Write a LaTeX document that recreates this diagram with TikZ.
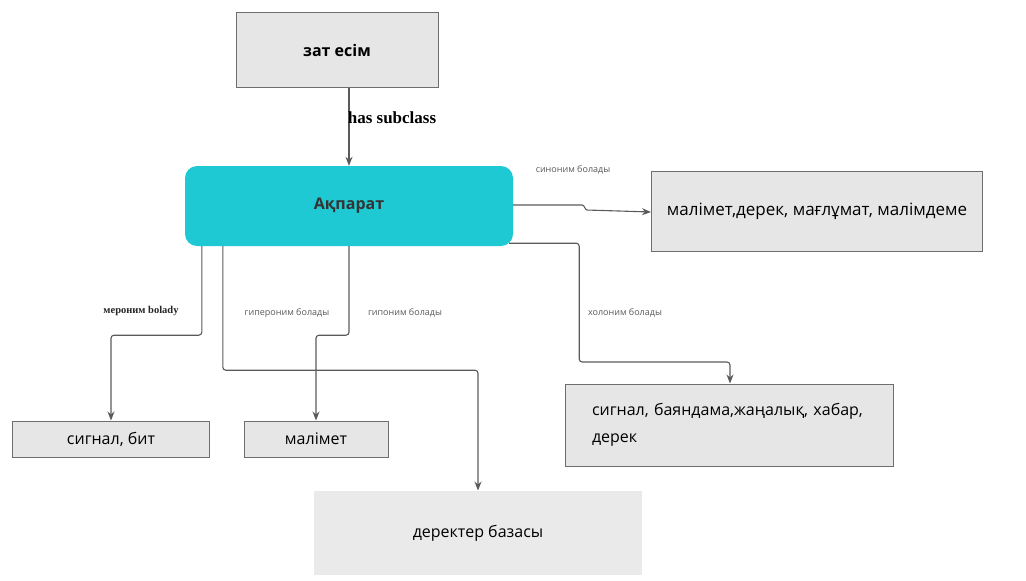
\documentclass[tikz,border=0pt]{standalone}
\usepackage{fontspec}
\setmainfont{Open Sans}
\newfontfamily\labelserif{Liberation Serif}
\usetikzlibrary{arrows.meta,positioning,calc}
\definecolor{boxfill}{HTML}{E6E6E6}
\definecolor{boxline}{HTML}{6E6E6E}
\definecolor{mainfill}{HTML}{1FC9D3}
\definecolor{linegray}{HTML}{5A5A5A}

\begin{document}
\begin{tikzpicture}[
  x=1pt, y=-1pt,
  box/.style={draw=boxline, line width=1pt, fill=boxfill, inner sep=0pt, align=center, font=\fontsize{16}{21}\selectfont},
  mainbox/.style={fill=mainfill, rounded corners=12pt, inner sep=0pt, minimum width=328pt, minimum height=80pt, font=\fontsize{16}{21}\selectfont\bfseries, text=black!80},
  rel/.style={font=\fontsize{9}{11}\selectfont, text=black!65},
  arr/.style={-{Stealth[length=9pt, width=7pt]}, line width=1.1pt, linegray, rounded corners=3pt}
]
  \useasboundingbox (0,0) rectangle (1026,581);

  \node[box, minimum width=202pt, minimum height=75pt, font=\fontsize{16}{21}\selectfont\bfseries] (zatesim) at (337,50) {зат есім};
  \node[mainbox] (akparat) at (349,206) {Ақпарат};
  \node[box, minimum width=331pt, minimum height=80pt, font=\fontsize{17}{21}\selectfont] (synonyms) at (817,211) {малімет,дерек, мағлұмат, малімдеме};
  \node[box, minimum width=197pt, minimum height=36pt] (signal) at (111,439) {сигнал, бит};
  \node[box, minimum width=144pt, minimum height=36pt] (malimet) at (316,439) {малімет};
  \node[box, minimum width=328pt, minimum height=82pt, text width=274pt, align=left, font=\fontsize{16}{27}\selectfont] (holonyms) at (729,425) {сигнал, баяндама,жаңалық, хабар,\\дерек};
  \node[box, draw=none, fill=boxfill!85, minimum width=328pt, minimum height=84pt] (database) at (478,533) {деректер базасы};

  % links
  \draw[arr] (zatesim.south -| akparat.south) -- (akparat.north);
  \draw[arr, rounded corners=1pt] ([yshift=1]akparat.east) -- ++(70,0) -- ++(3,5) -- (synonyms.west |- 0,212);
  \draw[arr] ([xshift=17]akparat.south west) -- ++(0,89) -| (signal.north);
  \draw[arr] ([xshift=38]akparat.south west) -- ++(0,124) -| (database.north);
  \draw[arr] (akparat.south) -- ++(0,89) -| (malimet.north);
  \draw[arr] ([shift={(-4,-3)}]akparat.south east) -- ++(70,0) |- (730,362) -- (holonyms.north -| 730,0);

  \node[font=\labelserif\bfseries\fontsize{17}{20}\selectfont] (subclass) at (392,118) {has subclass};
  \node[rel] (synlabel) at (573,170) {синоним болады};
  \node[rel, font=\labelserif\bfseries\fontsize{10.5}{12}\selectfont, text=black!85] (merlabel) at (141,311) {мероним bolady};
  \node[rel] (hyperlabel) at (287,313) {гипероним болады};
  \node[rel] (hypolabel) at (405,313) {гипоним болады};
  \node[rel] (hololabel) at (625,313) {холоним болады};
\end{tikzpicture}
\end{document}
